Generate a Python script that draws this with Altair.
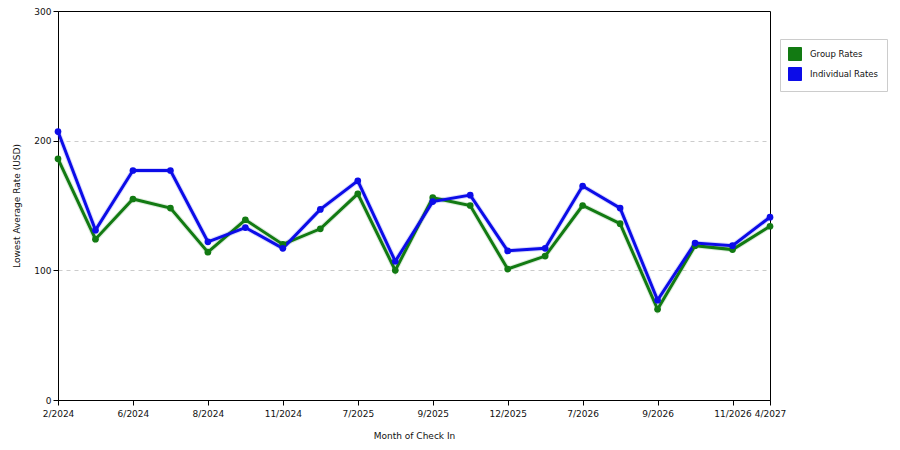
import pandas as pd
import altair as alt

# months of check in (only some of them get a tick label)
months = ['2/2024', '4/2024', '6/2024', '7/2024', '8/2024', '10/2024', '11/2024', '3/2025',
          '7/2025', '8/2025', '9/2025', '10/2025', '12/2025', '3/2026', '7/2026', '8/2026',
          '9/2026', '10/2026', '11/2026', '4/2027']
tick_months = ['2/2024', '6/2024', '8/2024', '11/2024', '7/2025', '9/2025', '12/2025',
               '7/2026', '9/2026', '11/2026', '4/2027']

group_rates = [186, 124, 155, 148, 114, 139, 120, 132, 159, 100,
               156, 150, 101, 111, 150, 136, 70, 119, 116, 134]
individual_rates = [207, 131, 177, 177, 122, 133, 117, 147, 169, 107,
                    153, 158, 115, 117, 165, 148, 77, 121, 119, 141]

series = ['Group Rates', 'Individual Rates']
colors = ['#127a12', '#0c0ce8']

df = pd.concat([
    pd.DataFrame({'month': months, 'rate': group_rates, 'series': series[0]}),
    pd.DataFrame({'month': months, 'rate': individual_rates, 'series': series[1]}),
])

font = 'DejaVu Sans'

x = alt.X('month:O', sort=months, title='Month of Check In',
          scale=alt.Scale(type='point', padding=0),
          axis=alt.Axis(values=tick_months, labelAngle=0, labelFontSize=9, labelColor='#111',
                        tickColor='#000', domainColor='#000', tickSize=5, labelPadding=4,
                        titleFontSize=9, titleFontWeight='normal', titlePadding=13,
                        titleColor='#111', grid=False))
y = alt.Y('rate:Q', title='Lowest Average Rate (USD)',
          scale=alt.Scale(domain=[0, 300], nice=False),
          axis=alt.Axis(values=[0, 100, 200, 300], labelFontSize=9, labelColor='#111',
                        tickColor='#000', domainColor='#000', tickSize=5, labelPadding=2,
                        titleFontSize=9, titleFontWeight='normal', titlePadding=12,
                        titleColor='#111', grid=True, gridColor='#cccccc', gridDash=[4, 4],
                        gridOpacity={'condition': {'test': 'datum.value == 0 || datum.value == 300',
                                                   'value': 0}, 'value': 1}))
color = alt.Color('series:N', scale=alt.Scale(domain=series, range=colors), title=None,
                  legend=alt.Legend(title=None, orient='none', legendX=722, legendY=28,
                                    symbolType='square', symbolSize=169,
                                    symbolStrokeColor='#333', symbolStrokeWidth=1,
                                    symbolOpacity=1,
                                    labelFontSize=8.5, labelColor='#111', labelFont=font,
                                    strokeColor='#cccccc', padding=8, rowPadding=2,
                                    labelOffset=8))

base = alt.Chart(df).encode(x=x, y=y, color=color)

halo = base.mark_line(strokeWidth=5, opacity=0.15)
lines = base.mark_line(strokeWidth=3)
points = base.mark_point(filled=True, size=45, opacity=1, shape='circle')

chart = (halo + lines + points).properties(
    width=712, height=389,
    autosize=alt.AutoSizeParams(type='none'),
    padding={'left': 50, 'top': 3, 'right': 122, 'bottom': 50},
).configure_view(stroke='#000', strokeWidth=1).configure_axis(
    labelFont=font, titleFont=font
)

chart.save("out.html", embed_options={"renderer": "svg", "actions": False})
